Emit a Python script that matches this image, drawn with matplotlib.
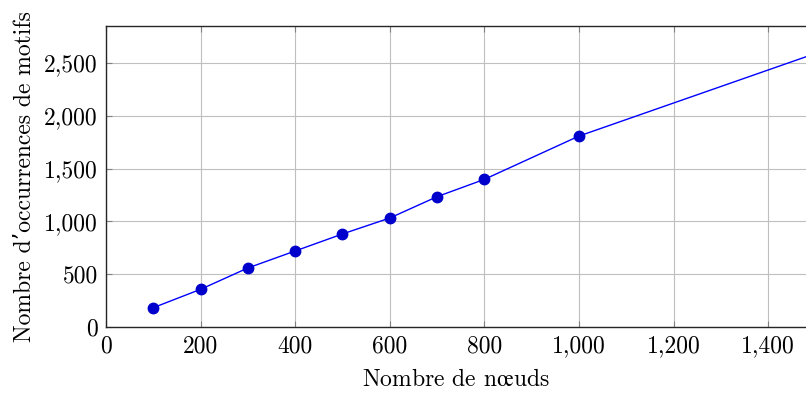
import matplotlib.pyplot as plt
from matplotlib.ticker import FuncFormatter

# Data
nodes = [100, 200, 300, 400, 500, 600, 700, 800, 1000, 1500]
occurrences = [183, 357, 559, 720, 881, 1032, 1234, 1398, 1808, 2590]

x_ticks = [0, 200, 400, 600, 800, 1000, 1200, 1400]
y_ticks = [0, 500, 1000, 1500, 2000, 2500]

plt.rcParams['font.family'] = ['cmr10', 'DejaVu Serif']
plt.rcParams['mathtext.fontset'] = 'cm'
plt.rcParams['axes.formatter.use_mathtext'] = True

fig = plt.figure(figsize=(8.06, 3.94), dpi=100)
ax = fig.add_axes([0.1315, 0.170, 0.8685, 0.764])

ax.plot(nodes, occurrences, color='#0000ff', linewidth=1.0,
        marker='o', markersize=7.5, markerfacecolor='#0000cc',
        markeredgecolor='#0000cc')

ax.set_xlim(0, 1480)
ax.set_ylim(0, 2850)
ax.set_xticks(x_ticks)
ax.set_yticks(y_ticks)
ax.xaxis.set_major_formatter(FuncFormatter(lambda v, p: f'{int(v):,}'))
ax.yaxis.set_major_formatter(FuncFormatter(lambda v, p: f'{int(v):,}'))

ax.grid(True, color='#bfbfbf', linewidth=0.8)
ax.set_axisbelow(True)
ax.tick_params(direction='in', length=4, color='#808080', labelsize=17,
               top=True, right=False, pad=6)
for s in ['left', 'bottom', 'top']:
    ax.spines[s].set_color('#262626')
    ax.spines[s].set_linewidth(1.0)
ax.spines['right'].set_visible(False)

ax.set_xlabel(r'Nombre de n$\mathrm{\oe}$uds', fontsize=17, labelpad=8)
ax.set_ylabel('Nombre d\u2019occurrences de motifs', fontsize=17, labelpad=6)

fig.savefig('out.png', dpi=100)
